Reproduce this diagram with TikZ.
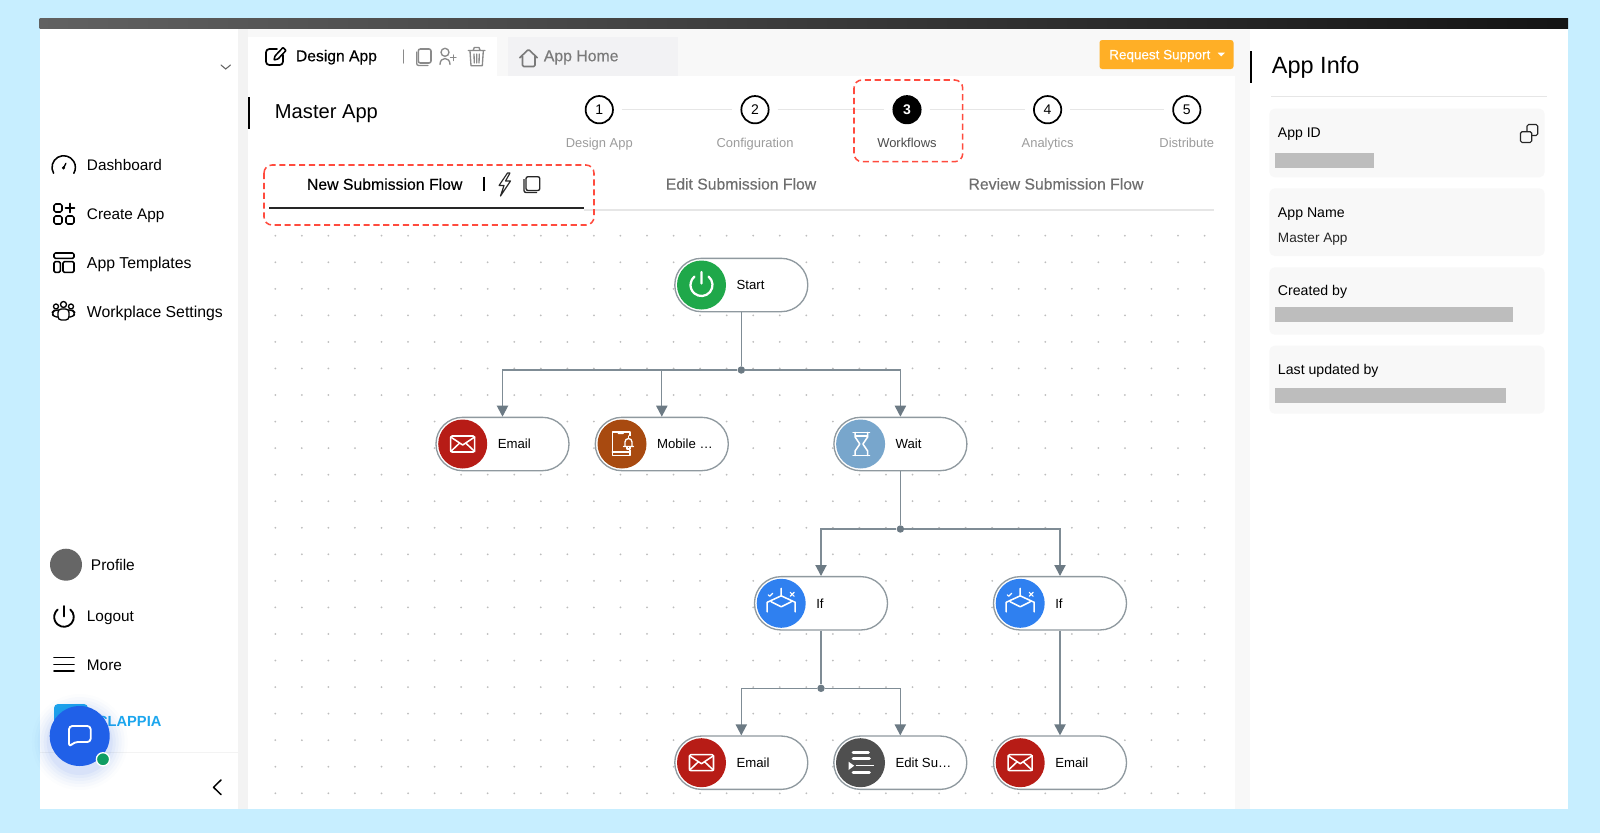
\documentclass[tikz,border=0pt]{standalone}
\usepackage{fontspec}
\setmainfont{Liberation Sans}
\newfontfamily\medf[FakeBold=0.3]{Liberation Sans}
\usetikzlibrary{arrows.meta,calc}
\definecolor{skybg}{HTML}{C7EEFF}
\definecolor{bandc}{HTML}{F3F3F3}
\definecolor{softc}{HTML}{F8F8F8}
\definecolor{hometab}{HTML}{F2F2F4}
\definecolor{linec}{HTML}{E6E6E6}
\definecolor{dotc}{HTML}{BDBDBD}
\definecolor{redbox}{HTML}{FF4B3E}
\definecolor{orangeb}{HTML}{FFAF26}
\definecolor{stepgray}{HTML}{9C9C9C}
\definecolor{tabgray}{HTML}{6E6E6E}
\definecolor{iconc}{HTML}{8A8A8A}
\definecolor{homec}{HTML}{7A7A7A}
\definecolor{connc}{HTML}{7F8C95}
\definecolor{tipc}{HTML}{6C7A84}
\definecolor{pillc}{HTML}{8F999F}
\definecolor{mailc}{HTML}{B71C16}
\definecolor{bellc}{HTML}{A84A10}
\definecolor{waitc}{HTML}{78A6CC}
\definecolor{ifc}{HTML}{2F80F0}
\definecolor{editc}{HTML}{4F4F4F}
\definecolor{startc}{HTML}{1FA84A}
\definecolor{chatc}{HTML}{2060E8}
\definecolor{greenc}{HTML}{0F9D63}
\definecolor{logoc}{HTML}{1CA6EE}
\definecolor{maskc}{HTML}{BDBDBD}
\definecolor{profc}{HTML}{666666}
\tikzset{
  fz/.style={font=\fontsize{#1}{#1}\selectfont},
  fm/.style={font=\medf\fontsize{#1}{#1}\selectfont},
  tx/.style={anchor=mid west,inner sep=0pt,yshift=-1.3pt},
  txc/.style={anchor=mid,inner sep=0pt,yshift=-0.7pt},
  navic/.style={draw=black,line width=1.15pt,line join=round,line cap=round},
  grayic/.style={draw=iconc,line width=1pt,line join=round,line cap=round},
  whiteic/.style={draw=white,line width=1.15pt,line join=round,line cap=round},
  redfr/.style={draw=redbox,line width=1.15pt,dash pattern=on 4.6pt off 2.8pt,rounded corners=6pt},
  stepdot/.style={circle,draw=black,line width=1.3pt,fill=white,minimum size=20.5pt,inner sep=0pt,font=\fontsize{10.5}{10.5}\selectfont},
  stepln/.style={draw=linec,line width=1.1pt,shorten >=6pt,shorten <=6pt},
  pillbox/.style={draw=pillc,line width=1pt,fill=white,rounded corners=19.9pt,minimum width=99.75pt,minimum height=40pt,inner sep=0pt},
  iconball/.style={circle,fill=#1,minimum size=36.75pt,inner sep=0pt},
  junct/.style={circle,fill=tipc,minimum size=5.6pt,inner sep=0pt},
  conn/.style={draw=connc,line width=1pt},
  connarr/.style={conn,-{Triangle[width=8.4pt,length=8.2pt,color=tipc]}},
  infocard/.style={fill=softc,rounded corners=4pt},
  maskbar/.style={fill=maskc}
}
\newcommand\icoMail{%
  \draw[whiteic,rounded corners=1pt] (-12,-8) rectangle (12,8);
  \draw[whiteic] (-12,-7)--(0,1)--(12,-7) (-12,7.5)--(-3,-1) (12,7.5)--(3,-1);}
\newcommand\icoBell{%
  \draw[whiteic,line width=.95pt] (8,-12)--(-9.7,-12)--(-9.7,11.3)--(8,11.3)--(8,5.5) (-9.7,8)--(8,8) (8,-12)--(8,-8);
  \draw[whiteic,line width=.95pt] (-4,-12)--(-3.5,-10.5)--(1,-10.5)--(1.5,-12);
  \fill[bellc] (1,-8.5) rectangle (12.5,6);
  \draw[whiteic,line width=1pt] (1.5,2.5)--(11.5,2.5) (3,2.5)--(3,-2) arc (180:360:3.5) --(10,2.5);
  \draw[whiteic,line width=1pt] (6.5,-8)--(6.5,-5.5) (5,2.5)--(5,5)--(8,5)--(8,2.5);}
\newcommand\icoGlass{%
  \draw[whiteic] (-7.5,-11.5)--(9,-11.5) (-7.5,11.5)--(9,11.5) (-5,-8)--(7,-8);
  \draw[whiteic] (-5.5,-11.5)--(-5.5,-7)--(-.8,0)--(-5.5,7)--(-5.5,11.5) (7,-11.5)--(7,-7)--(2.3,0)--(7,7)--(7,11.5);}
\newcommand\icoIf{%
  \draw[whiteic] (0,-15)--(0,-7.5) (-14,8.5)--(-14,-1)--(0,-7.5)--(14,-1)--(14,8.5) (-10,-1.5)--(0,3.5)--(10,-1.5);
  \draw[whiteic,line width=.9pt] (-13,-8.5)--(-11.5,-7)--(-8.5,-10) (9,-11)--(13,-7) (13,-11)--(9,-7);}
\newcommand\icoEdit{%
  \draw[white,line width=2pt,line cap=round] (-7.5,-10.5)--(8,-10.5) (-7.5,-4.5)--(9,-4.5) (-7.5,9.7)--(9,9.7);
  \draw[white,line width=.9pt] (-5,3)--(13,3);
  \fill[white] (-12,-1)--(-12,7.3)--(-6.3,3)--cycle;}
\newcommand\icoPower{%
  \draw[white,line width=1.7pt,line cap=round] (310:11) arc (310:590:11) (0,-13)--(0,-1.5);}
% name, cx, cy, colour, icon macro, label
\newcommand\flownode[6]{%
  \node[pillbox] (#1) at (#2,#3) {};
  \node[iconball=#4] (#1ic) at ({#2-39.8},#3) {};
  \begin{scope}[shift={({#2-39.8},#3)}]#5\end{scope}
  \node[tx,yshift=.2pt,fz=9.9] (#1lb) at ({#2-5},#3) {#6};}
\begin{document}
\begin{tikzpicture}[x=0.75pt,y=-0.75pt]
\useasboundingbox (0,0) rectangle (1600,833);
\fill[skybg] (0,0) rectangle (1600,833);
% window
\fill[white] (39.5,27.5) rectangle (1568,809);
\fill[bandc] (238,27) rectangle (248,809);
\fill[softc] (248,27) rectangle (1250,76);
\fill[softc] (1235,76) rectangle (1250,809);
\shade[left color=black!62,right color=black!92] (39.5,18.5) rectangle (1568,28);
\fill[white] (248,37) rectangle (497,76);
\fill[hometab] (508,37) rectangle (677.6,76);
% sidebar
\draw[draw=black!60,line width=.8pt,line cap=round] (221,65)--(225.7,69)--(230.5,65);
\draw[navic] (63.7,167.4) ++(150:11.7) arc (150:390:11.7);
\draw[navic,line width=1pt] (63.7,167.7)--(65.9,163.3);
\fill (63.5,167.8) circle (1.7);
\node[tx,fz=11.5] (dash) at (86.7,165) {Dashboard};
\begin{scope}[shift={(64,214)}]
  \draw[navic,rounded corners=1.2pt] (-10,-10) rectangle (-2,-2) (-10,2) rectangle (-2,10) (2,2) rectangle (10,10);
  \draw[navic] (1.5,-6)--(10.5,-6) (6,-10.5)--(6,-1.5);
\end{scope}
\node[tx,fz=11.5] (crea) at (86.7,214) {Create App};
\begin{scope}[shift={(64,263)}]
  \draw[navic,rounded corners=1pt] (-10,-10) rectangle (10,-4.7) (-10,-1.3) rectangle (-3.7,9.3) (-1,-1.3) rectangle (10,9.3);
\end{scope}
\node[tx,fz=11.85] (tmpl) at (86.7,263.5) {App Templates};
\begin{scope}[shift={(63.5,311.5)}]
  \draw[navic,line width=1pt] (0,-7) circle (3) (-7.5,-5) circle (2.5) (7.5,-5) circle (2.5);
  \draw[navic,line width=1pt,rounded corners=2.5pt] (-5.5,-2.5) rectangle (5.5,8.5);
  \draw[navic,line width=1pt,rounded corners=2.5pt] (-5.5,5.5)--(-10,5.5)--(-11.5,1)--(-9,-1.5)--(-5,-1.5) (5.5,5.5)--(10,5.5)--(11.5,1)--(9,-1.5)--(5,-1.5);
\end{scope}
\node[tx,fz=11.85] (work) at (86.7,312.5) {Workplace Settings};
\fill[profc] (66,564.7) circle (16);
\node[tx,fz=11.6] (prof) at (90.7,565.5) {Profile};
\draw[navic,line width=1.4pt] (64,617) ++(310:9.8) arc (310:590:9.8);
\draw[navic,line width=1.4pt] (64,606)--(64,616.5);
\node[tx,fz=11.5] (logo) at (86.7,616.5) {Logout};
\draw[navic] (54,657.7)--(74,657.7) (54,664.3)--(74,664.3) (54,671)--(74,671);
\node[tx,fz=11.5] (more) at (86.7,665) {More};
\fill[logoc,rounded corners=3pt] (54,704) rectangle (88,738);
\node[anchor=mid east,inner sep=0pt,yshift=-1.3pt,logoc,font=\bfseries\fontsize{11}{11}\selectfont] (clap) at (161.7,721.7) {CLAPPIA};
\fill[bandc] (39.5,752) rectangle (238,753.2);
\foreach \r/\o in {48/.012,45/.018,42/.025,39/.03,36/.04,33/.05} \fill[chatc,opacity=\o] (79.7,742) circle (\r);
\fill[chatc] (79.7,736) circle (30);
\draw[white,line width=1.4pt,line join=round,rounded corners=2.5pt] (69,726)--(90.7,726)--(90.7,742)--(74.5,742)--(69,747)--cycle;
\fill[greenc,draw=white,line width=1pt] (103,759.3) circle (6.6);
\draw[navic,line width=1.1pt] (221,780)--(213.5,787.3)--(221,794.5);
% tabs row
\begin{scope}
  \draw[navic,line width=1.3pt,rounded corners=2.5pt] (277,49)--(266,49)--(266,65)--(283,65)--(283,55);
  \draw[navic,rounded corners=.5pt] (274,60)--(275,56)--(283,47.5)--(286,50.5)--(278,59)--cycle;
\end{scope}
\node[tx,fm=11.75] (dapp) at (295.7,56) {Design App};
\draw[grayic,line width=1.1pt] (403.3,50)--(403.3,63);
\draw[grayic,line width=1.15pt,rounded corners=1.5pt] (418.3,49) rectangle (431,63);
\draw[grayic,rounded corners=1.5pt] (416.7,52)--(416.7,65.5)--(428,65.5);
\draw[grayic] (445,52.3) circle (4);
\draw[grayic] (440,64.5) .. controls (440,56.5) and (450,56.5) .. (450,64.5);
\draw[grayic] (450.5,57.7)--(456,57.7) (453.3,55)--(453.3,60.5);
\draw[grayic] (468.3,50.5)--(485,50.5) (473.3,50)--(474.3,47.5)--(479,47.5)--(480,50);
\draw[grayic] (470,51)--(471,65.7)--(482.3,65.7)--(483.3,51) (474,54)--(474.3,63) (476.7,54)--(476.7,63) (479.3,54)--(479,63);
\draw[draw=homec,line width=1.2pt,line join=round,rounded corners=1pt] (519.5,58)--(528.5,49.3)--(537.5,58) (522.5,56)--(522.5,66.5)--(535,66.5)--(535,56);
\node[tx,fm=11.85,homec] (ahome) at (543.6,56) {App Home};
\fill[orangeb,rounded corners=2pt] (1099.5,40) rectangle (1233.5,69);
\node[tx,fm=10.1,white] (reqs) at (1109,54) {Request Support};
\fill[white] (1217.5,52.5)--(1225,52.5)--(1221.2,56.3)--cycle;
% heading
\draw[black,line width=1.3pt] (248.7,97)--(248.7,129);
\node[tx,yshift=-1.2pt,fz=15.1] (mapp) at (274.7,111.7) {Master App};
% stepper
\node[stepdot] (s1) at (599.3,109.7) {1};
\node[stepdot] (s2) at (755,109.7) {2};
\node[stepdot,fill=black,text=white,font=\bfseries\fontsize{10.5}{10.5}\selectfont] (s3) at (907,109.7) {3};
\node[stepdot] (s4) at (1047.6,109.7) {4};
\node[stepdot] (s5) at (1186.8,109.7) {5};
\draw[stepln] (s1)--(s2);
\draw[stepln] (s2)--(s3);
\draw[stepln] (s3)--(s4);
\draw[stepln] (s4)--(s5);
\node[txc,fz=9.7,stepgray] (l1) at (599.3,143) {Design App};
\node[txc,fz=9.7,stepgray] (l2) at (755,143) {Configuration};
\node[txc,fz=9.7,black!70] (l3) at (907,143) {Workflows};
\node[txc,fz=9.7,stepgray] (l4) at (1047.6,143) {Analytics};
\node[txc,fz=9.7,stepgray] (l5) at (1186.8,143) {Distribute};
\draw[redfr] (854,80) rectangle (962.7,161.7);
% flow tabs
\draw[linec,line width=1.1pt] (584,210)--(1213.7,210);
\draw[black!85,line width=1.5pt] (269,208.3)--(584,208.3);
\node[tx,yshift=-.4pt,fm=11.85] (tab1) at (306.7,184) {New Submission Flow};
\draw[black,line width=1.2pt] (484,176.5)--(484,191);
\draw[black!85,line width=.85pt,line join=round] (507.5,173)--(499,185.5)--(504,185.5)--(500.5,196)--(510.5,181)--(505.5,181)--(510,173)--cycle;
\draw[black!85,line width=1pt,rounded corners=1.5pt] (526,176.7) rectangle (539.8,190.5);
\draw[black!85,line width=1pt,rounded corners=1.5pt] (524,179)--(524,192.5)--(537,192.5);
\node[txc,yshift=-.8pt,fm=11.8,tabgray] (tab2) at (741,184) {Edit Submission Flow};
\node[txc,yshift=-.8pt,fm=11.8,tabgray] (tab3) at (1056,184) {Review Submission Flow};
\draw[redfr] (264,165) rectangle (594,225);
% dots
\foreach \i in {0,...,35}
  \foreach \j in {0,...,21}
    \fill[dotc] ({275.3+26.55*\i},{235.7+26.55*\j}) circle (1);
% flow nodes
\flownode{start}{741.3}{285}{startc}{\icoPower}{Start}
\flownode{maila}{502.5}{444}{mailc}{\icoMail}{Email}
\flownode{mobile}{661.8}{444}{bellc}{\icoBell}{Mobile …}
\flownode{wait}{900.4}{444}{waitc}{\icoGlass}{Wait}
\flownode{ifa}{821}{603.3}{ifc}{\icoIf}{If}
\flownode{ifb}{1060}{603.3}{ifc}{\icoIf}{If}
\flownode{mailb}{741.3}{762.7}{mailc}{\icoMail}{Email}
\flownode{edit}{900.3}{762.7}{editc}{\icoEdit}{Edit Su…}
\flownode{mailc2}{1060}{762.7}{mailc}{\icoMail}{Email}
\node[junct] (ja) at (741.3,370) {};
\node[junct] (jb) at (900.4,529) {};
\node[junct] (jc) at (821,688.3) {};
\draw[conn] (start.south)--(ja);
\draw[connarr] (ja) -| (maila.north);
\draw[connarr] (ja) -| (mobile.north);
\draw[connarr] (ja) -| (wait.north);
\draw[conn] (wait.south)--(jb);
\draw[connarr] (jb) -| (ifa.north);
\draw[connarr] (jb) -| (ifb.north);
\draw[conn] (ifa.south)--(jc);
\draw[connarr] (jc) -| (mailb.north);
\draw[connarr] (jc) -| (edit.north);
\draw[connarr] (ifb.south)--(mailc2.north);
% right panel
\draw[black,line width=1.3pt] (1251,51)--(1251,82.7);
\node[tx,yshift=-2.4pt,fz=17.6] (ainfo) at (1271.7,65) {App Info};
\draw[linec,line width=.8pt] (1271,96.3)--(1547,96.3);
\fill[infocard] (1269.3,108.7) rectangle (1544.7,177.3);
\fill[infocard] (1269.3,188.3) rectangle (1544.7,256);
\fill[infocard] (1269.3,267.3) rectangle (1544.7,334.7);
\fill[infocard] (1269.3,345.7) rectangle (1544.7,413.7);
\node[tx,fz=10.5] (iid) at (1277.7,132.7) {App ID};
\draw[black!85,line width=.9pt,rounded corners=1.2pt] (1520.5,131.7) rectangle (1531.7,142.5);
\draw[black!85,line width=.9pt,rounded corners=1.2pt] (1527,131)--(1527,124.5)--(1537.7,124.5)--(1537.7,135.5)--(1532,135.5);
\fill[maskbar] (1275,153) rectangle (1373.7,167.7);
\node[tx,fz=10.6] (inam) at (1277.7,212) {App Name};
\node[tx,fz=10.2,black!85] (ival) at (1277.7,237.7) {Master App};
\node[tx,fz=10.6] (icre) at (1277.7,290.7) {Created by};
\fill[maskbar] (1275,307) rectangle (1512.7,322);
\node[tx,fz=10.6] (iupd) at (1277.7,369) {Last updated by};
\fill[maskbar] (1275,388.3) rectangle (1505.7,403.3);
\end{tikzpicture}
\end{document}
